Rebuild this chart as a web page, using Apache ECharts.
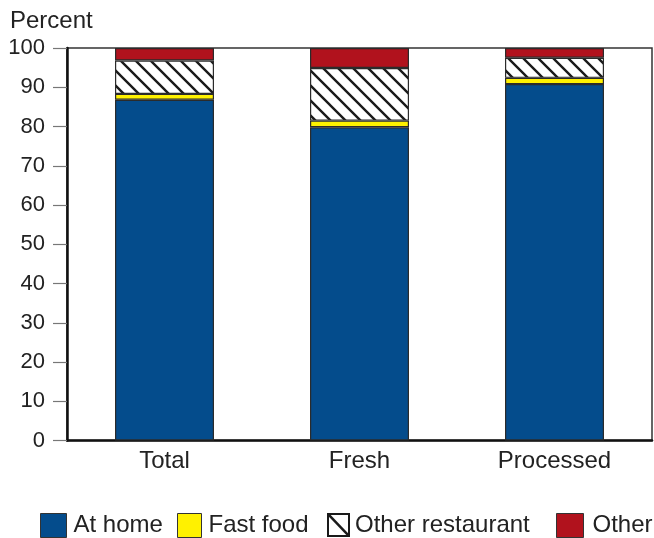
<!DOCTYPE html>
<html>
<head>
<meta charset="utf-8">
<script src="https://cdn.jsdelivr.net/npm/echarts@6/dist/echarts.min.js"></script>
<style>
  html, body { margin: 0; padding: 0; background: #fff; }
  #chart { width: 654px; height: 538px; }
</style>
</head>
<body>
<div id="chart"></div>
<script>
// Share of consumption by place of purchase (percent)
const categories = ['Total', 'Fresh', 'Processed'];
const seriesNames = ['At home', 'Fast food', 'Other restaurant', 'Other'];
const atHome = [86.8, 79.8, 90.8];
const fastFood = [1.5, 1.7, 1.6];
const otherRestaurant = [8.5, 13.4, 5.1];
const other = [3.2, 5.1, 2.5];
const yTicks = [0, 10, 20, 30, 40, 50, 60, 70, 80, 90, 100];

const FONT = '"Liberation Sans", Arial, Helvetica, sans-serif';
const TEXT = '#222';
const OUTLINE = '#2b2b2b';

// Diagonal hatch tile for the "Other restaurant" segments
function makeHatch() {
  const s = 15;
  const c = document.createElement('canvas');
  c.width = s; c.height = s;
  const g = c.getContext('2d');
  g.fillStyle = '#fff';
  g.fillRect(0, 0, s, s);
  g.strokeStyle = '#1a1a1a';
  g.lineWidth = 2.4;
  g.beginPath();
  g.moveTo(-2, -2); g.lineTo(s + 2, s + 2);
  g.moveTo(-2, s - 2); g.lineTo(2, s + 2);
  g.moveTo(s - 2, -2); g.lineTo(s + 2, 2);
  g.stroke();
  return c;
}

// Legend swatch: outlined white box with a single diagonal
function makeHatchIcon() {
  const w = 46, h = 48;
  const c = document.createElement('canvas');
  c.width = w; c.height = h;
  const g = c.getContext('2d');
  g.fillStyle = '#fff';
  g.fillRect(0, 0, w, h);
  g.strokeStyle = '#1a1a1a';
  g.lineWidth = 4;
  g.strokeRect(2, 2, w - 4, h - 4);
  g.lineWidth = 5;
  g.beginPath();
  g.moveTo(2, 2); g.lineTo(w - 2, h - 2);
  g.stroke();
  return c.toDataURL();
}

const colors = ['#044c8c', '#fff100', { image: makeHatch(), repeat: 'repeat' }, '#b1121d'];
const values = [atHome, fastFood, otherRestaurant, other];
const legendText = { fontFamily: FONT, fontSize: 24, color: TEXT, lineHeight: 24 };

function legendFor(i, left, w, h, extra) {
  return Object.assign({
    show: true,
    left: left,
    top: 513,
    padding: 0,
    orient: 'horizontal',
    icon: 'rect',
    itemWidth: w,
    itemHeight: h,
    selectedMode: false,
    textStyle: legendText,
    itemStyle: { borderColor: '#333', borderWidth: 1 },
    data: [seriesNames[i]]
  }, extra || {});
}

const chart = echarts.init(document.getElementById('chart'), null, { renderer: 'canvas' });

chart.setOption({
  animation: false,
  backgroundColor: '#fff',
  title: {
    text: 'Percent',
    left: 10,
    top: 9,
    padding: 0,
    textStyle: { fontFamily: FONT, fontSize: 24, fontWeight: 'normal', color: TEXT }
  },
  grid: {
    left: 67,
    right: 2,
    top: 48,
    bottom: 97.5,
    show: true,
    borderColor: '#333',
    borderWidth: 1.5,
    containLabel: false
  },
  legend: [
    legendFor(0, 40, 26, 24, { textStyle: Object.assign({}, legendText, { padding: [0, 0, 0, 2] }) }),
    legendFor(1, 177, 24, 24, { textStyle: Object.assign({}, legendText, { padding: [0, 0, 0, 2] }) }),
    legendFor(2, 327, 23, 24, {
      data: [{ name: seriesNames[2], icon: 'image://' + makeHatchIcon() }]
    }),
    legendFor(3, 556, 27, 24, {
      textStyle: Object.assign({}, legendText, { padding: [0, 0, 0, 4] })
    })
  ],
  xAxis: {
    type: 'category',
    data: categories,
    axisLine: { show: true, lineStyle: { color: '#111', width: 2.5 } },
    axisTick: { show: false },
    axisLabel: { fontFamily: FONT, fontSize: 24, color: TEXT, margin: 9 },
    splitLine: { show: false }
  },
  yAxis: {
    type: 'value',
    min: yTicks[0],
    max: yTicks[yTicks.length - 1],
    interval: 10,
    axisLine: { show: true, lineStyle: { color: '#111', width: 2.5 } },
    axisTick: { show: true, inside: false, length: 14, lineStyle: { color: '#777', width: 1.2 } },
    axisLabel: { fontFamily: FONT, fontSize: 22, color: TEXT, margin: 22 },
    splitLine: { show: false }
  },
  series: seriesNames.map((name, i) => ({
    name: name,
    type: 'bar',
    stack: 'share',
    barWidth: 99,
    data: values[i],
    itemStyle: { color: colors[i], borderColor: OUTLINE, borderWidth: 1.2 },
    emphasis: { disabled: true }
  }))
});
</script>
</body>
</html>
